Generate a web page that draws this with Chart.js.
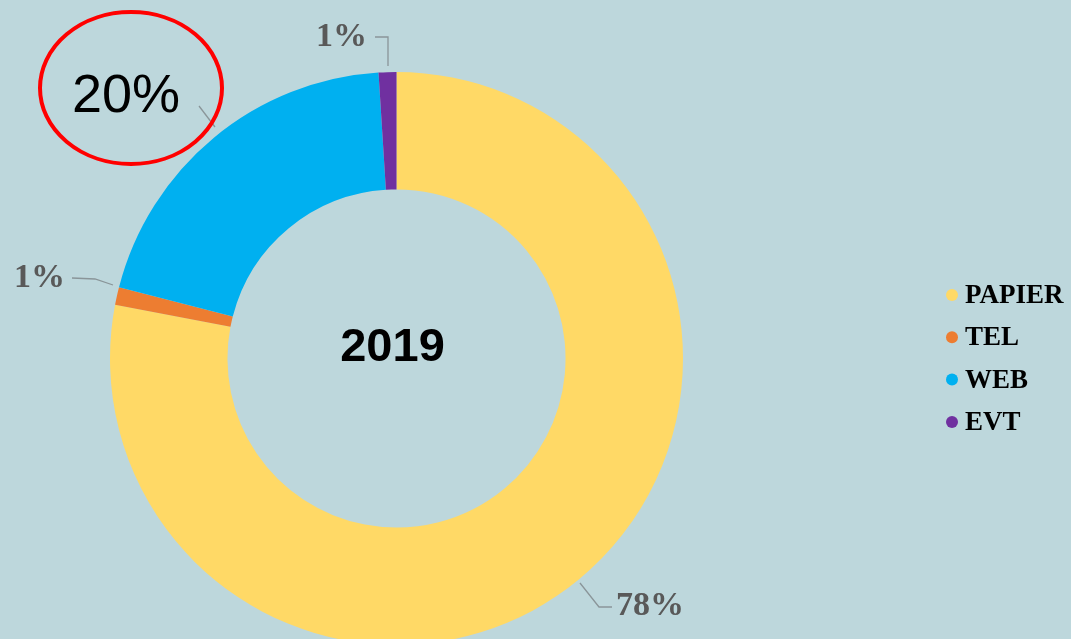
<!DOCTYPE html>
<html>
<head>
<meta charset="utf-8">
<script src="https://cdn.jsdelivr.net/npm/chart.js@4/dist/chart.umd.min.js"></script>
<style>
html,body{margin:0;padding:0;background:#BDD7DC;overflow:hidden;width:1071px;height:639px;}
canvas{display:block;}
</style>
</head>
<body>
<canvas id="c" width="1071" height="660"></canvas>
<script>
const categories = ['PAPIER', 'TEL', 'WEB', 'EVT'];
const values = [78, 1, 20, 1];
const percentLabels = ['78%', '1%', '20%', '1%'];
const centerTitle = '2019';
const colors = ['#FFD966', '#ED7D31', '#00B0F0', '#7030A0'];

const overlay = {
  id: 'overlay',
  afterDatasetsDraw(chart) {
    const ctx = chart.ctx;
    const meta = chart.getDatasetMeta(0);
    const arc0 = meta.data[0];
    const cx = arc0.x, cy = arc0.y;
    ctx.save();
    // center title
    ctx.fillStyle = '#000';
    ctx.font = 'bold 47px "Liberation Sans", Arial, sans-serif';
    ctx.textAlign = 'center';
    ctx.textBaseline = 'middle';
    ctx.fillText(centerTitle, cx - 4, cy - 10);

    // leader lines
    ctx.strokeStyle = '#8a9599';
    ctx.lineWidth = 1.3;
    const lines = [
      [[580,583],[599,607],[612,607]],   // PAPIER
      [[72,278],[95,279],[113,285]],     // TEL
      [[199,106],[215,127]],             // WEB
      [[375,37],[388,37],[388,66]]       // EVT
    ];
    lines.forEach(pts => {
      ctx.beginPath();
      ctx.moveTo(pts[0][0], pts[0][1]);
      for (let i = 1; i < pts.length; i++) ctx.lineTo(pts[i][0], pts[i][1]);
      ctx.stroke();
    });

    // percentage labels
    ctx.fillStyle = '#595959';
    ctx.font = 'bold 34px "Liberation Serif", "Times New Roman", serif';
    ctx.textBaseline = 'middle';
    ctx.textAlign = 'left';
    ctx.fillText(percentLabels[0], 616, 606);
    ctx.fillText(percentLabels[1], 14, 278);
    ctx.fillText(percentLabels[3], 316, 37);

    // WEB label highlighted
    ctx.fillStyle = '#000';
    ctx.font = '54px "Liberation Sans", Arial, sans-serif';
    ctx.textAlign = 'center';
    ctx.fillText(percentLabels[2], 126, 97);
    ctx.strokeStyle = '#FF0000';
    ctx.lineWidth = 4;
    ctx.beginPath();
    ctx.ellipse(131, 88, 91, 76, 0, 0, Math.PI * 2);
    ctx.stroke();

    // legend
    ctx.textAlign = 'left';
    ctx.font = 'bold 27px "Liberation Serif", "Times New Roman", serif';
    categories.forEach((c, i) => {
      const y = 295 + i * 42.3;
      ctx.fillStyle = colors[i];
      ctx.beginPath();
      ctx.arc(952, y, 6, 0, Math.PI * 2);
      ctx.fill();
      ctx.fillStyle = '#000';
      ctx.fillText(c, 965, y + 1);
    });
    ctx.restore();
  }
};

new Chart(document.getElementById('c'), {
  type: 'doughnut',
  data: {
    labels: categories,
    datasets: [{
      data: values,
      backgroundColor: colors,
      borderWidth: 0
    }]
  },
  options: {
    responsive: false,
    animation: false,
    cutout: '59%',
    layout: { padding: { left: 110, right: 388, top: 72, bottom: 15 } },
    plugins: {
      legend: { display: false },
      tooltip: { enabled: false }
    }
  },
  plugins: [overlay]
});
</script>
</body>
</html>
